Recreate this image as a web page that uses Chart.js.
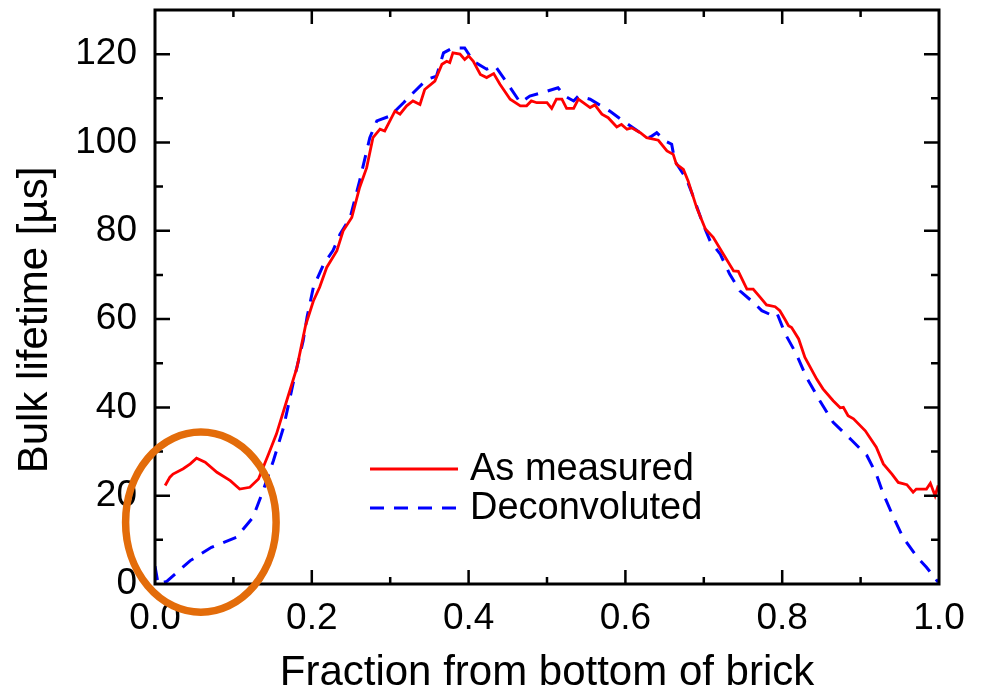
<!DOCTYPE html>
<html>
<head>
<meta charset="utf-8">
<script src="https://cdn.jsdelivr.net/npm/chart.js@4.4.1/dist/chart.umd.min.js"></script>
<style>
  html, body { margin: 0; padding: 0; background: #fff; }
  #wrap { width: 985px; height: 691px; position: relative; }
</style>
</head>
<body>
<div id="wrap"><canvas id="chart"></canvas></div>
<script>
// lifetime profile along the brick height
const measuredX = [0.013, 0.019, 0.023, 0.036, 0.045, 0.053, 0.064, 0.079, 0.096, 0.108, 0.121, 0.132, 0.145, 0.155, 0.168, 0.181, 0.192, 0.202, 0.210, 0.219, 0.232, 0.240, 0.251, 0.261, 0.270, 0.278, 0.287, 0.293, 0.306, 0.3125, 0.321, 0.329, 0.338, 0.344, 0.357, 0.366, 0.372, 0.376, 0.380, 0.389, 0.395, 0.400, 0.406, 0.415, 0.423, 0.432, 0.440, 0.453, 0.466, 0.474, 0.480, 0.487, 0.500, 0.506, 0.512, 0.519, 0.525, 0.534, 0.540, 0.555, 0.561, 0.570, 0.578, 0.589, 0.595, 0.602, 0.608, 0.619, 0.627, 0.642, 0.653, 0.661, 0.665, 0.674, 0.680, 0.691, 0.702, 0.712, 0.725, 0.738, 0.744, 0.755, 0.763, 0.772, 0.780, 0.791, 0.797, 0.804, 0.808, 0.812, 0.821, 0.829, 0.844, 0.852, 0.865, 0.874, 0.878, 0.884, 0.891, 0.906, 0.920, 0.929, 0.940, 0.948, 0.959, 0.967, 0.971, 0.984, 0.989, 0.995, 0.999];
const measuredY = [22.3, 24.2, 24.9, 26.1, 27.2, 28.5, 27.6, 25.3, 23.4, 21.5, 21.9, 23.8, 29.5, 34.0, 41.5, 49.0, 58.5, 64.1, 67.2, 71.7, 75.5, 80.0, 83.0, 89.8, 94.3, 101.1, 103.0, 102.6, 107.1, 106.4, 108.3, 109.4, 108.6, 112.0, 113.9, 117.7, 118.4, 118.1, 120.3, 120.0, 118.8, 119.6, 118.4, 115.4, 114.7, 115.6, 113.2, 109.8, 108.3, 108.3, 109.4, 109.0, 109.0, 107.7, 109.8, 109.8, 107.7, 107.7, 109.8, 107.9, 108.5, 106.4, 105.6, 103.5, 104.1, 103.0, 103.3, 102.2, 101.1, 100.5, 98.1, 97.3, 95.1, 93.9, 91.3, 85.2, 80.4, 78.5, 74.7, 70.9, 70.8, 66.8, 66.8, 64.9, 63.2, 62.8, 61.9, 59.8, 58.5, 58.1, 55.5, 51.3, 46.4, 44.2, 41.5, 39.9, 40.0, 38.1, 37.4, 34.7, 31.0, 27.2, 24.9, 23.0, 22.5, 20.8, 21.5, 21.5, 22.8, 20.0, 22.3];

const deconvX = [0.000, 0.004, 0.015, 0.045, 0.072, 0.104, 0.125, 0.138, 0.151, 0.164, 0.176, 0.189, 0.194, 0.202, 0.215, 0.227, 0.236, 0.249, 0.261, 0.274, 0.283, 0.300, 0.317, 0.325, 0.347, 0.359, 0.368, 0.380, 0.395, 0.406, 0.423, 0.434, 0.449, 0.466, 0.478, 0.500, 0.514, 0.523, 0.534, 0.540, 0.555, 0.580, 0.597, 0.619, 0.631, 0.640, 0.651, 0.659, 0.663, 0.678, 0.687, 0.699, 0.708, 0.721, 0.733, 0.746, 0.763, 0.774, 0.784, 0.793, 0.804, 0.818, 0.831, 0.848, 0.865, 0.889, 0.908, 0.920, 0.929, 0.942, 0.954, 0.972, 0.984, 0.999];
const deconvY = [4.0, 0.0, 0.6, 5.3, 8.3, 10.6, 15.1, 21.2, 27.9, 35.5, 45.3, 55.1, 60.5, 67.2, 72.4, 75.5, 79.2, 83.0, 91.3, 101.1, 104.9, 106.0, 109.0, 110.5, 114.3, 115.0, 120.3, 121.4, 121.4, 118.4, 116.6, 117.3, 113.5, 109.0, 110.5, 111.6, 112.4, 110.5, 109.4, 110.5, 109.8, 107.1, 104.9, 102.2, 101.1, 102.2, 100.3, 99.6, 95.8, 91.7, 87.5, 81.5, 77.7, 74.7, 70.2, 66.4, 63.8, 61.9, 61.1, 61.5, 56.6, 52.1, 46.8, 41.5, 36.6, 32.5, 29.1, 24.9, 20.4, 15.1, 10.6, 6.1, 3.8, 0.4];

const seriesNames = ['As measured', 'Deconvoluted'];
const xTicks = [0, 0.2, 0.4, 0.6, 0.8, 1.0];
const yTicks = [0, 20, 40, 60, 80, 100, 120];

// region of interest marked near the bottom of the brick
const markCenter = { x: 0.0585, y: 14.0 };
const markRadius = { x: 0.096, y: 20.4 };

const FONT = "'Liberation Sans', Arial, sans-serif";

const toPoints = (xs, ys) => xs.map((x, i) => ({ x: x, y: ys[i] }));

// box, inward ticks, legend and the orange marker
const framePlugin = {
  id: 'frame',
  afterDatasetsDraw(chart) {
    const { ctx, chartArea: a, scales: { x, y } } = chart;
    ctx.save();
    ctx.strokeStyle = '#000';
    ctx.lineWidth = 2.5;
    ctx.lineCap = 'butt';
    ctx.beginPath();
    for (let v = 0; v <= 1.0001; v += 0.1) {
      const px = x.getPixelForValue(v);
      const len = Math.round(v * 10) % 2 === 0 ? 14 : 7;
      if (v > 0.001 && v < 0.999) {
        ctx.moveTo(px, a.bottom); ctx.lineTo(px, a.bottom - len);
        ctx.moveTo(px, a.top); ctx.lineTo(px, a.top + len);
      }
    }
    for (let v = 10; v < 130; v += 10) {
      const py = y.getPixelForValue(v);
      const len = v % 20 === 0 ? 15 : 8;
      ctx.moveTo(a.left, py); ctx.lineTo(a.left + len, py);
      ctx.moveTo(a.right, py); ctx.lineTo(a.right - len, py);
    }
    ctx.stroke();
    ctx.lineWidth = 3;
    ctx.strokeRect(a.left, a.top, a.right - a.left, a.bottom - a.top);
    ctx.restore();
  },
  afterDraw(chart) {
    const { ctx, scales: { x, y } } = chart;
    ctx.save();

    // legend
    const lx = 370, lw = 88, ly = [469, 508];
    chart.data.datasets.forEach((ds, i) => {
      ctx.strokeStyle = ds.borderColor;
      ctx.lineWidth = ds.borderWidth;
      ctx.setLineDash(ds.borderDash || []);
      ctx.beginPath();
      ctx.moveTo(lx, ly[i]);
      ctx.lineTo(lx + lw, ly[i]);
      ctx.stroke();
      ctx.setLineDash([]);
      ctx.fillStyle = '#000';
      ctx.font = '38px ' + FONT;
      ctx.textBaseline = 'middle';
      ctx.textAlign = 'left';
      ctx.fillText(ds.label, lx + lw + 12, ly[i] + 1);
    });

    // y axis title
    ctx.translate(35, 320);
    ctx.rotate(-Math.PI / 2);
    ctx.font = '42px ' + FONT;
    ctx.textAlign = 'center';
    ctx.textBaseline = 'middle';
    ctx.fillStyle = '#000';
    ctx.fillText('Bulk lifetime [µs]', 0, 0);
    ctx.setTransform(1, 0, 0, 1, 0, 0);

    // orange marker
    const cx = x.getPixelForValue(markCenter.x);
    const cy = y.getPixelForValue(markCenter.y);
    const rx = x.getPixelForValue(markCenter.x + markRadius.x) - cx;
    const ry = cy - y.getPixelForValue(markCenter.y + markRadius.y);
    ctx.strokeStyle = '#e36c0a';
    ctx.lineWidth = 7.5;
    ctx.beginPath();
    ctx.ellipse(cx, cy, rx, ry, 0, 0, Math.PI * 2);
    ctx.stroke();
    ctx.restore();
  }
};

new Chart(document.getElementById('chart'), {
  type: 'line',
  data: {
    datasets: [{
      label: seriesNames[0],
      data: toPoints(measuredX, measuredY),
      borderColor: '#ff0000',
      borderWidth: 2.8,
      pointRadius: 0,
      tension: 0
    }, {
      label: seriesNames[1],
      data: toPoints(deconvX, deconvY),
      borderColor: '#0000ff',
      borderWidth: 3,
      borderDash: [14, 10],
      pointRadius: 0,
      tension: 0
    }]
  },
  options: {
    responsive: true,
    maintainAspectRatio: false,
    animation: false,
    layout: { padding: { top: 10, right: 46, left: 0, bottom: 0 } },
    plugins: {
      legend: { display: false },
      tooltip: { enabled: false }
    },
    scales: {
      x: {
        type: 'linear',
        min: 0,
        max: 1,
        grid: { display: false, drawTicks: false },
        border: { display: false },
        afterBuildTicks: s => { s.ticks = xTicks.map(v => ({ value: v })); },
        ticks: {
          color: '#000',
          font: { family: FONT, size: 37 },
          padding: 13,
          maxRotation: 0,
          callback: v => v.toFixed(1)
        },
        title: {
          display: true,
          text: 'Fraction from bottom of brick',
          color: '#000',
          font: { family: FONT, size: 42, lineHeight: 0.85 },
          padding: 0
        },
        afterFit: s => { s.height = 107; s.paddingLeft = 0; s.paddingRight = 0; }
      },
      y: {
        min: 0,
        max: 130,
        grid: { display: false, drawTicks: false },
        border: { display: false },
        afterBuildTicks: s => { s.ticks = yTicks.map(v => ({ value: v })); },
        ticks: {
          color: '#000',
          font: { family: FONT, size: 37 },
          padding: 18
        },
        afterFit: s => { s.width = 155; s.paddingTop = 0; s.paddingBottom = 0; }
      }
    }
  },
  plugins: [framePlugin]
});
</script>
</body>
</html>
